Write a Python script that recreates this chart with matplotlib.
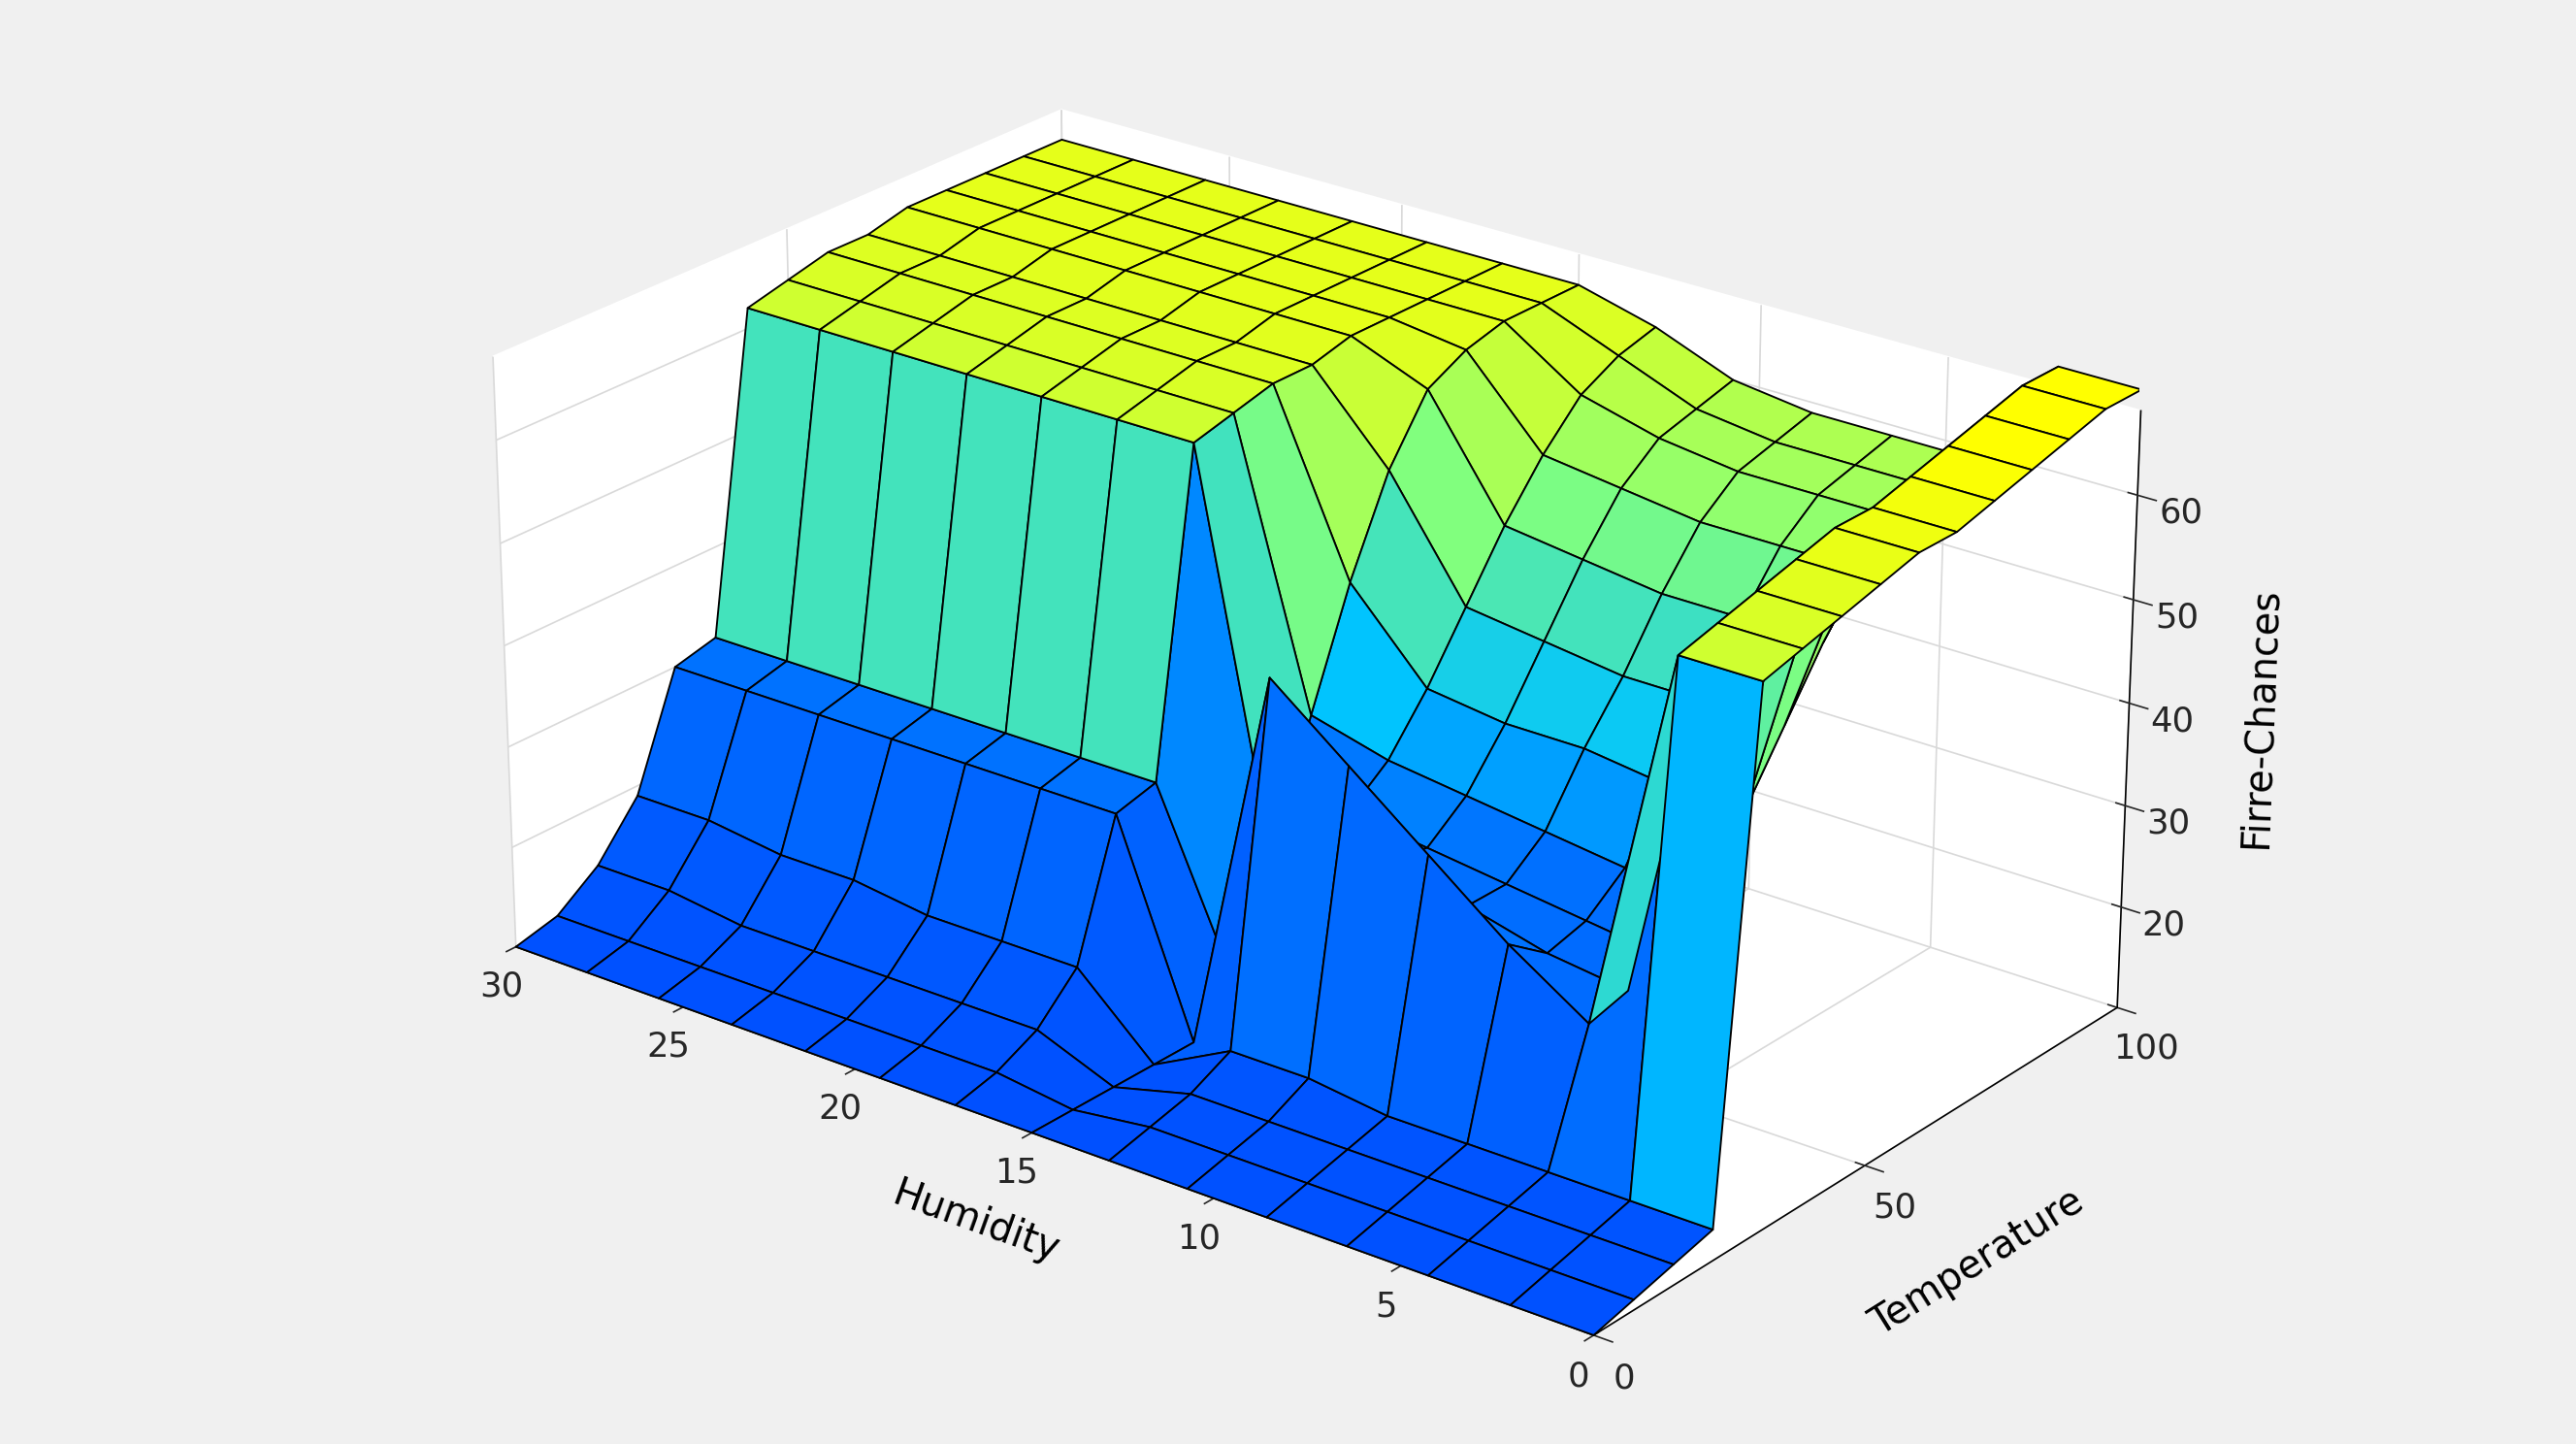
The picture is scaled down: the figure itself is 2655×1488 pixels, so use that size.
import numpy as np
import matplotlib
matplotlib.use("Agg")
import matplotlib.pyplot as plt
from matplotlib.colors import LinearSegmentedColormap

humidity = np.linspace(0, 30, 15)
temperature = np.linspace(0, 100, 15)

# fire chances, rows = temperature (0 -> 100), columns = humidity (0 -> 30)
fire_chances = [
    [10, 10, 10, 10, 10, 10, 10, 10, 10, 10, 10, 10, 10, 10, 10],
    [11, 11, 11, 11, 11, 11, 11, 10, 11, 11, 11, 11, 11, 11, 11],
    [12, 12, 12, 12, 12, 12, 12, 10, 13, 13, 13, 13, 13, 14, 14],
    [13, 13, 13, 13, 13, 14, 14, 10, 17, 17, 17, 18, 18, 19, 19],
    [62, 62, 25, 30, 36, 42, 48, 10, 30, 30, 30, 30, 30, 30, 30],
    [63, 63, 26, 27, 29, 31, 34, 14, 31, 31, 31, 31, 31, 31, 31],
    [64, 64, 27, 28, 29, 30, 31, 24, 62, 62, 62, 62, 62, 62, 62],
    [65, 65, 31, 31, 32, 33, 34, 36, 63, 63, 63, 63, 63, 63, 63],
    [66, 66, 37, 37, 38, 38, 39, 47, 64, 64, 64, 64, 64, 64, 64],
    [66, 66, 43, 43, 43, 44, 45, 56, 64, 64, 64, 64, 64, 64, 64],
    [67, 67, 49, 49, 49, 50, 51, 62, 65, 65, 65, 65, 65, 65, 65],
    [68, 68, 54, 54, 54, 55, 56, 64, 65, 65, 65, 65, 65, 65, 65],
    [69, 69, 57, 57, 57, 58, 60, 65, 65, 65, 65, 65, 65, 65, 65],
    [70, 70, 58, 58, 58, 59, 62, 65, 65, 65, 65, 65, 65, 65, 65],
    [70, 70, 59, 59, 59, 60, 63, 65, 65, 65, 65, 65, 65, 65, 65],
]

surf_cmap = LinearSegmentedColormap.from_list("fis", [
    (0.0, "#0050ff"), (0.35, "#0070ff"), (0.5, "#00c4ff"),
    (0.75, "#80ff80"), (1.0, "#ffff00")])

# humidity axis runs 30 -> 0 from left to right
H, T = np.meshgrid(30 - humidity, temperature)
Z = np.array(fire_chances, dtype=float)

fig = plt.figure(figsize=(17.7, 9.92), dpi=150, facecolor="#f0f0f0")
ax = fig.add_axes([-0.02, -0.08, 1.04, 1.18], projection="3d")
ax.set_facecolor("#f0f0f0")
ax.plot_surface(H, T, Z, cmap=surf_cmap, vmin=10, vmax=68,
                edgecolor="black", linewidth=0.9, antialiased=True, shade=False)

ax.set_xlim(0, 30)
ax.set_ylim(0, 100)
ax.set_zlim(10, 68)
xt = [30, 25, 20, 15, 10, 5, 0]
ax.set_xticks([30 - v for v in xt])
ax.set_xticklabels([str(v) for v in xt])
ax.set_yticks([0, 50, 100])
ax.set_zticks([20, 30, 40, 50, 60])
ax.tick_params(labelsize=17, colors="#262626")
ax.set_xlabel("Humidity", fontsize=19, labelpad=22)
ax.set_ylabel("Temperature", fontsize=19, labelpad=22)
ax.set_zlabel("Firre-Chances", fontsize=19, labelpad=14)
for a in (ax.xaxis, ax.yaxis, ax.zaxis):
    a.set_pane_color((1, 1, 1, 1))
    a._axinfo["grid"]["color"] = (0.85, 0.85, 0.85, 1)
ax.view_init(elev=24, azim=-52)
ax.set_box_aspect((2.0, 1.3, 0.95))

fig.savefig("out.png", dpi=150, facecolor="#f0f0f0")
